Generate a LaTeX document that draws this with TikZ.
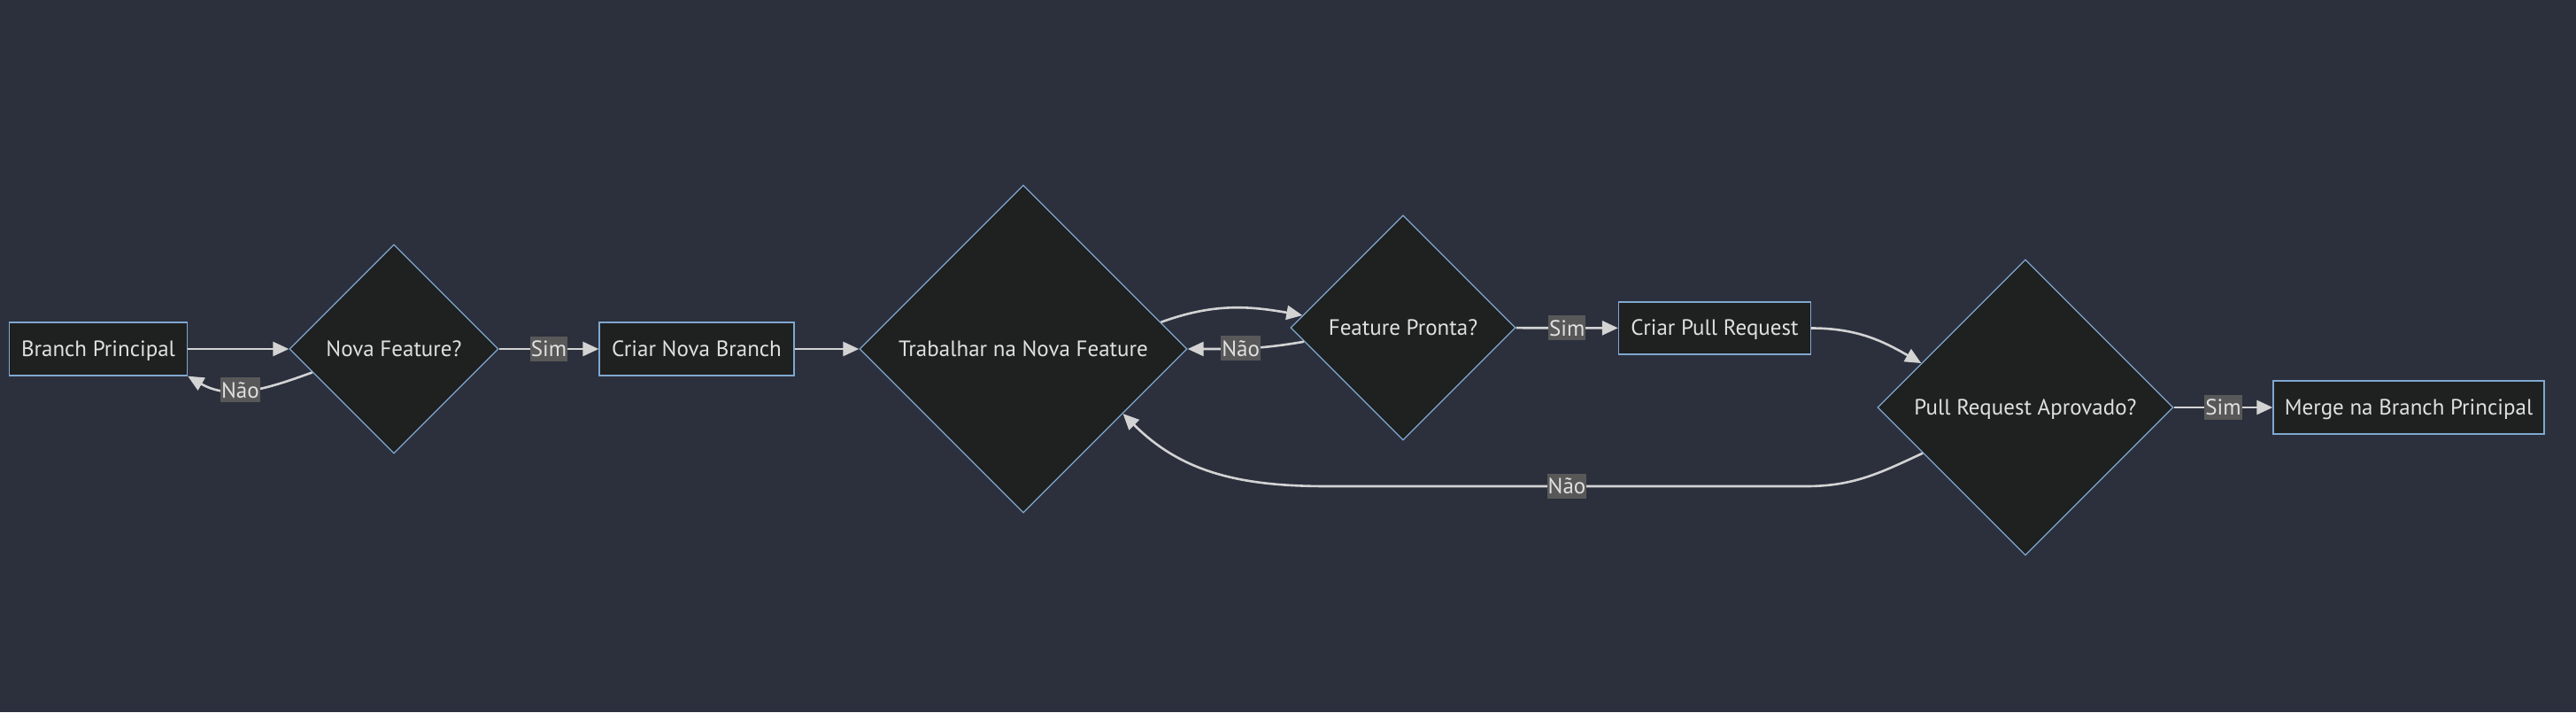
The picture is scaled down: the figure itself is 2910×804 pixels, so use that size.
\documentclass[tikz,border=0pt]{standalone}
\usepackage{fontspec}
\setmainfont{PT Sans}
\usetikzlibrary{shapes.geometric,arrows.meta}
\definecolor{bgdark}{HTML}{2C303D}
\definecolor{nodefill}{HTML}{1F2020}
\definecolor{nodeline}{HTML}{7FA8D0}
\definecolor{textgray}{HTML}{E0E0E0}
\definecolor{edgegray}{HTML}{D3D3D3}
\definecolor{labelgray}{HTML}{585858}

\begin{document}
\begin{tikzpicture}[x=1pt, y=-1pt,
  font=\fontsize{25}{28}\selectfont,
  procbox/.style={draw=nodeline, fill=nodefill, text=textgray, line width=1.3pt,
    minimum height=60, inner sep=0, text height=20, text depth=4},
  choice/.style={shape=diamond, aspect=1, draw=nodeline, fill=nodefill, text=textgray,
    line width=1.3pt, inner sep=0, text height=20, text depth=4},
  flow/.style={draw=edgegray, line width=2.6pt, -{Triangle[length=18pt,width=16pt]}},
  answer/.style={fill=labelgray, text=textgray, inner xsep=1pt, inner ysep=0pt,
    minimum height=28}]
  \fill[bgdark] (0,0) rectangle (2910,804);
  \useasboundingbox (0,0) rectangle (2910,804);

  % nodes
  \node[procbox, minimum width=201] (bp) at (111,394) {Branch Principal};
  \node[choice, minimum size=236] (nf) at (445,394) {Nova Feature?};
  \node[procbox, minimum width=220] (cnb) at (787,394) {Criar Nova Branch};
  \node[choice, minimum size=370] (tnf) at (1156,394) {Trabalhar na Nova Feature};
  \node[choice, minimum size=254] (fp) at (1585,370) {Feature Pronta?};
  \node[procbox, minimum width=217, minimum height=59] (cpr) at (1937,370.5) {Criar Pull Request};
  \node[choice, minimum size=334] (pra) at (2288,460) {Pull Request Aprovado?};
  \node[procbox, minimum width=306] (mbp) at (2721,460) {Merge na Branch Principal};

  \coordinate (loopR) at (2040,549);
  \coordinate (loopL) at (1500,549);

  % edges
  \draw[flow] (bp) -- (nf);
  \draw[flow] (nf.196) to[out=200, in=-30] node[answer, pos=0.57] {Não} (bp.south east);
  \draw[flow] (nf) -- node[answer] {Sim} (cnb);
  \draw[flow] (cnb) -- (tnf);
  \draw[flow] (tnf.11) to[out=20, in=170] (fp.173);
  \draw[flow] (fp.188) to[out=190, in=0] node[answer, pos=0.55] {Não} (tnf.east);
  \draw[flow] (fp) -- node[answer] {Sim} (cpr);
  \draw[flow] (cpr.east) to[out=0, in=150] (pra.157);
  \draw[flow] (pra.204) to[out=205, in=0] (loopR) -- node[answer] {Não} (loopL)
    to[out=180, in=-45] (tnf.-33);
  \draw[flow] (pra) -- node[answer] {Sim} (mbp);
\end{tikzpicture}
\end{document}
